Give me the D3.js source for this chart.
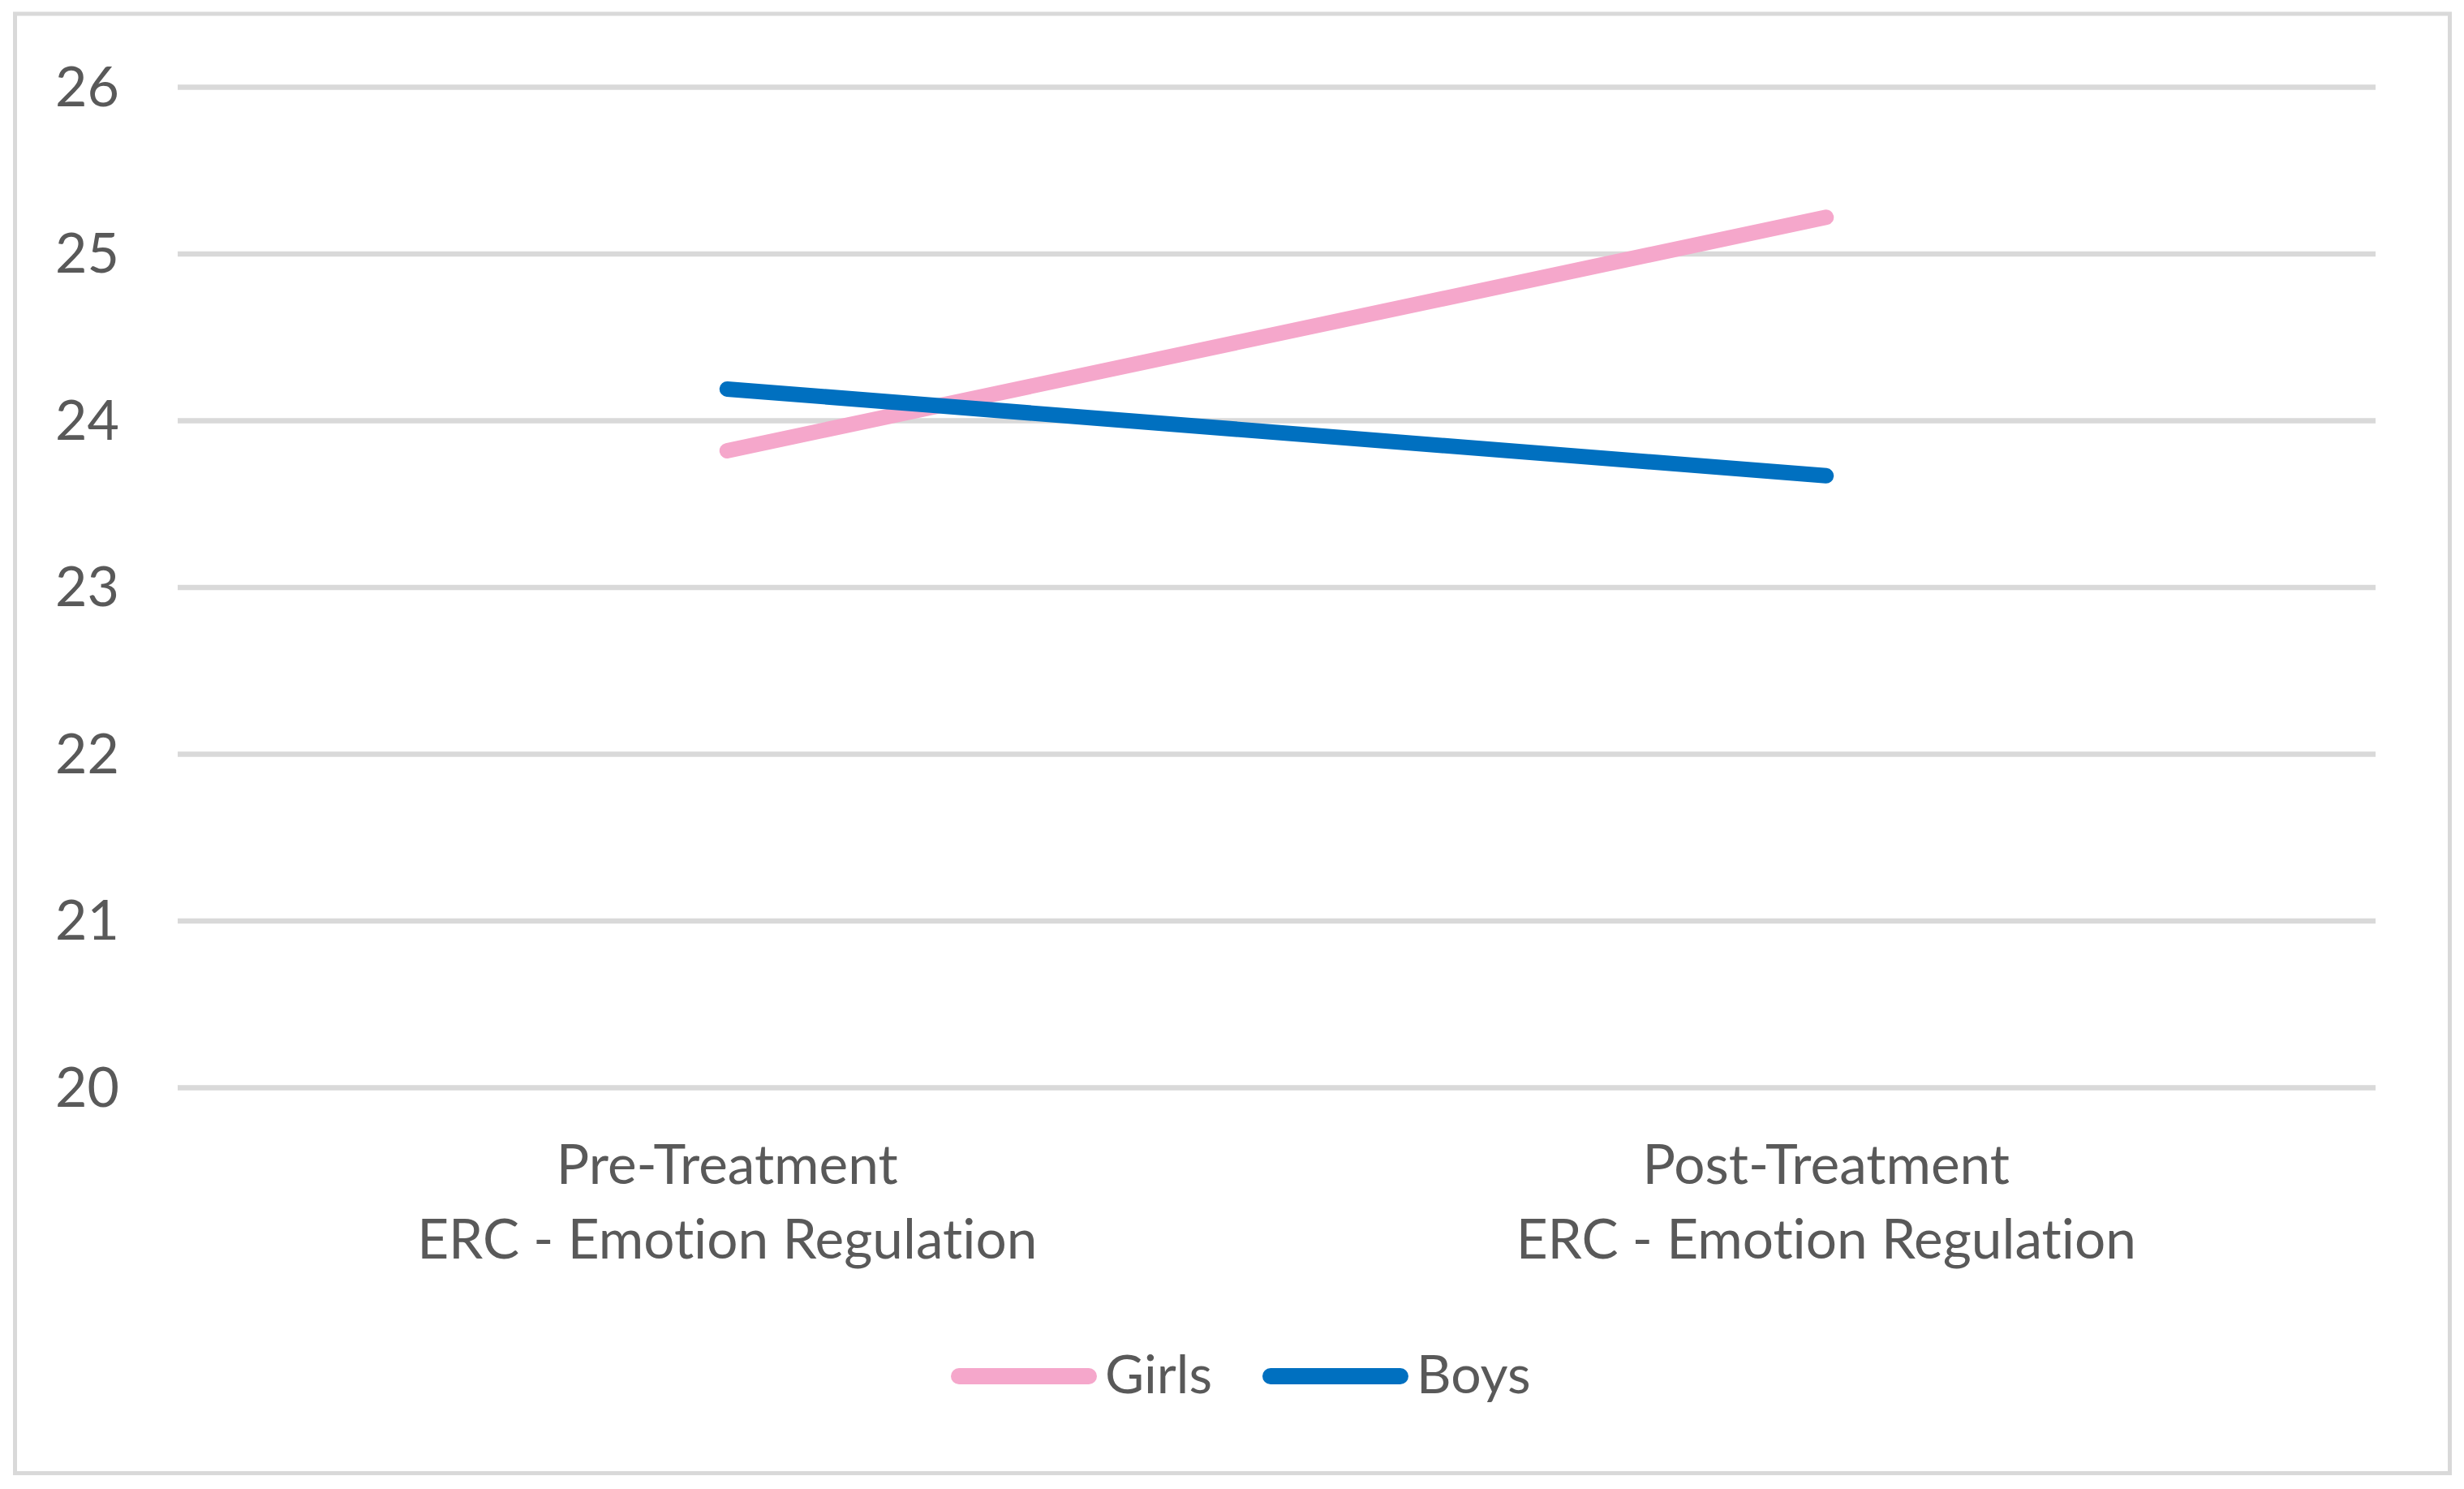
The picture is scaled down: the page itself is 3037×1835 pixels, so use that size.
<!DOCTYPE html>
<html lang="en">
<head>
    <meta charset="UTF-8">
    <title>ERC - Emotion Regulation: Girls vs Boys</title>
    <script src="https://d3js.org/d3.v7.min.js"></script>
    <style>
        body {
            margin: 0;
            background: #fff;
            font-family: Lato, "Open Sans", sans-serif;
        }
        text {
            fill: #595959;
            font-variant-ligatures: none;
            font-feature-settings: "liga" 0, "clig" 0;
        }
    </style>
</head>
<body>
    <div id="chart"></div>
    <script>
        // data
        const categories = ["Pre-Treatment\nERC - Emotion Regulation", "Post-Treatment\nERC - Emotion Regulation"];
        const seriesNames = ["Girls", "Boys"];
        const girlsValues = [23.82, 25.22];
        const boysValues = [24.19, 23.67];
        const yTicks = [20, 21, 22, 23, 24, 25, 26];
        const seriesColors = ["#F5A7CB", "#0070C0"];

        const width = 3037;
        const height = 1835;
        const plot = { left: 219, right: 2928, top: 107.5, bottom: 1340.5 };

        const svg = d3.select("#chart")
            .append("svg")
            .attr("width", width)
            .attr("height", height);

        // outer chart border
        svg.append("rect")
            .attr("x", 18.5)
            .attr("y", 17)
            .attr("width", 3001)
            .attr("height", 1798.5)
            .attr("fill", "none")
            .attr("stroke", "#d9d9d9")
            .attr("stroke-width", 5);

        const x = d3.scaleBand()
            .domain(categories)
            .range([plot.left, plot.right])
            .padding(0);

        const y = d3.scaleLinear()
            .domain([20, 26])
            .range([plot.bottom, plot.top]);

        // gridlines
        svg.append("g")
            .selectAll("line")
            .data(yTicks)
            .enter()
            .append("line")
            .attr("x1", plot.left)
            .attr("x2", plot.right)
            .attr("y1", d => y(d))
            .attr("y2", d => y(d))
            .attr("stroke", "#d9d9d9")
            .attr("stroke-width", 6.5);

        // y tick labels
        svg.append("g")
            .selectAll("text")
            .data(yTicks)
            .enter()
            .append("text")
            .attr("x", 147)
            .attr("y", d => y(d) + 23)
            .attr("text-anchor", "end")
            .style("font-size", "68px")
            .text(d => d);

        // category labels (two lines each)
        const catLabels = svg.append("g")
            .selectAll("text")
            .data(categories)
            .enter()
            .append("text")
            .attr("text-anchor", "middle")
            .style("font-size", "67.5px");

        catLabels.selectAll("tspan")
            .data(d => d.split("\n").map(t => ({ t, c: d })))
            .enter()
            .append("tspan")
            .attr("x", d => x(d.c) + x.bandwidth() / 2)
            .attr("y", (d, i) => 1459 + i * 92)
            .text(d => d.t);

        // series lines
        const series = [
            { name: seriesNames[0], values: girlsValues, color: seriesColors[0] },
            { name: seriesNames[1], values: boysValues, color: seriesColors[1] }
        ];

        const line = d3.line()
            .x((d, i) => x(categories[i]) + x.bandwidth() / 2)
            .y(d => y(d));

        svg.append("g")
            .selectAll("path")
            .data(series)
            .enter()
            .append("path")
            .attr("d", d => line(d.values))
            .attr("fill", "none")
            .attr("stroke", d => d.color)
            .attr("stroke-width", 19)
            .attr("stroke-linecap", "round")
            .attr("stroke-linejoin", "round");

        // legend
        const legend = svg.append("g");
        const legendY = 1696;
        const swatch = 160;
        let lx = 1182;
        series.forEach(s => {
            legend.append("line")
                .attr("x1", lx)
                .attr("x2", lx + swatch)
                .attr("y1", legendY)
                .attr("y2", legendY)
                .attr("stroke", s.color)
                .attr("stroke-width", 20)
                .attr("stroke-linecap", "round");
            const t = legend.append("text")
                .attr("x", lx + swatch + 20)
                .attr("y", legendY + 21)
                .style("font-size", "66px")
                .text(s.name);
            lx += swatch + 20 + t.node().getComputedTextLength() + 72;
        });
    </script>
</body>
</html>
